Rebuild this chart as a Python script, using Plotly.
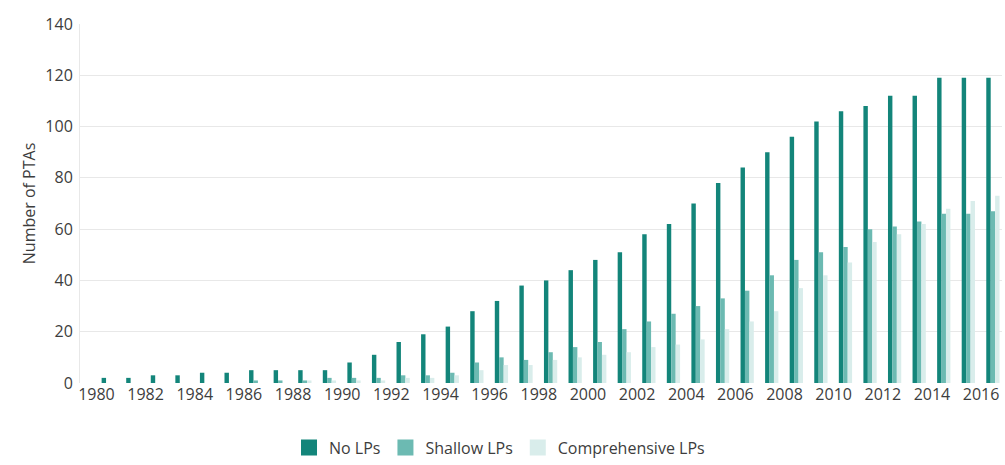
import plotly.graph_objects as go

years = list(range(1980, 2017))
no_lps = [2, 2, 3, 3, 4, 4, 5, 5, 5, 5, 8, 11, 16, 19, 22, 28, 32, 38, 40, 44,
          48, 51, 58, 62, 70, 78, 84, 90, 96, 102, 106, 108, 112, 112, 119, 119, 119]
shallow_lps = [0, 0, 0, 0, 0, 0, 1, 1, 1, 2, 2, 2, 3, 3, 4, 8, 10, 9, 12, 14,
               16, 21, 24, 27, 30, 33, 36, 42, 48, 51, 53, 60, 61, 63, 66, 66, 67]
comprehensive_lps = [0, 0, 0, 0, 0, 0, 0, 0, 1, 1, 1, 1, 2, 2, 3, 5, 7, 7, 9, 10,
                     11, 12, 14, 15, 17, 21, 24, 28, 37, 42, 47, 55, 58, 62, 68, 71, 73]
tick_years = list(range(1980, 2017, 2))

fig = go.Figure()
series = [
    ("No LPs", no_lps, "#13857a", 0.21),
    ("Shallow LPs", shallow_lps, "#6cbab2", 0.39),
    ("Comprehensive LPs", comprehensive_lps, "#d9edeb", 0.57),
]
for name, vals, col, off in series:
    fig.add_trace(go.Bar(
        x=years, y=vals, name=name, marker_color=col,
        marker_line_width=0, offset=off, width=0.18, showlegend=False,
    ))
# legend entries with larger square swatches
for name, vals, col, off in series:
    fig.add_trace(go.Scatter(
        x=[None], y=[None], mode="markers", name=name,
        marker=dict(symbol="square", size=22, color=col),
    ))

fig.update_layout(
    width=1005, height=465,
    margin=dict(l=80, r=3, t=24, b=82, autoexpand=False),
    paper_bgcolor="white", plot_bgcolor="white",
    font=dict(family="Open Sans", size=16, color="#3d3d3d"),
    barmode="overlay",
    showlegend=True,
    legend=dict(orientation="h", x=0.455, xanchor="center", y=-0.18, yanchor="middle",
                font=dict(size=16, color="#3d3d3d"), traceorder="normal",
                itemwidth=30, itemsizing="trace"),
    xaxis=dict(range=[1979.33, 2016.85], tickmode="array", tickvals=tick_years,
               ticktext=[str(y) for y in tick_years], showgrid=False, zeroline=False,
               ticks="", showline=False, tickfont=dict(size=16), automargin=False),
    yaxis=dict(range=[0, 140], tickmode="array", tickvals=list(range(0, 141, 20)),
               showgrid=True, gridcolor="#e8e8e8", gridwidth=1, zeroline=False,
               showline=True, linecolor="#e8e8e8", ticks="", tickfont=dict(size=16),
               ticklabelstandoff=3, automargin=False,
               title=dict(text="Number of PTAs", font=dict(size=16), standoff=5)),
)

fig.write_html("out.html", config={"displayModeBar": False},
               post_script="document.body.style.margin='0';")
